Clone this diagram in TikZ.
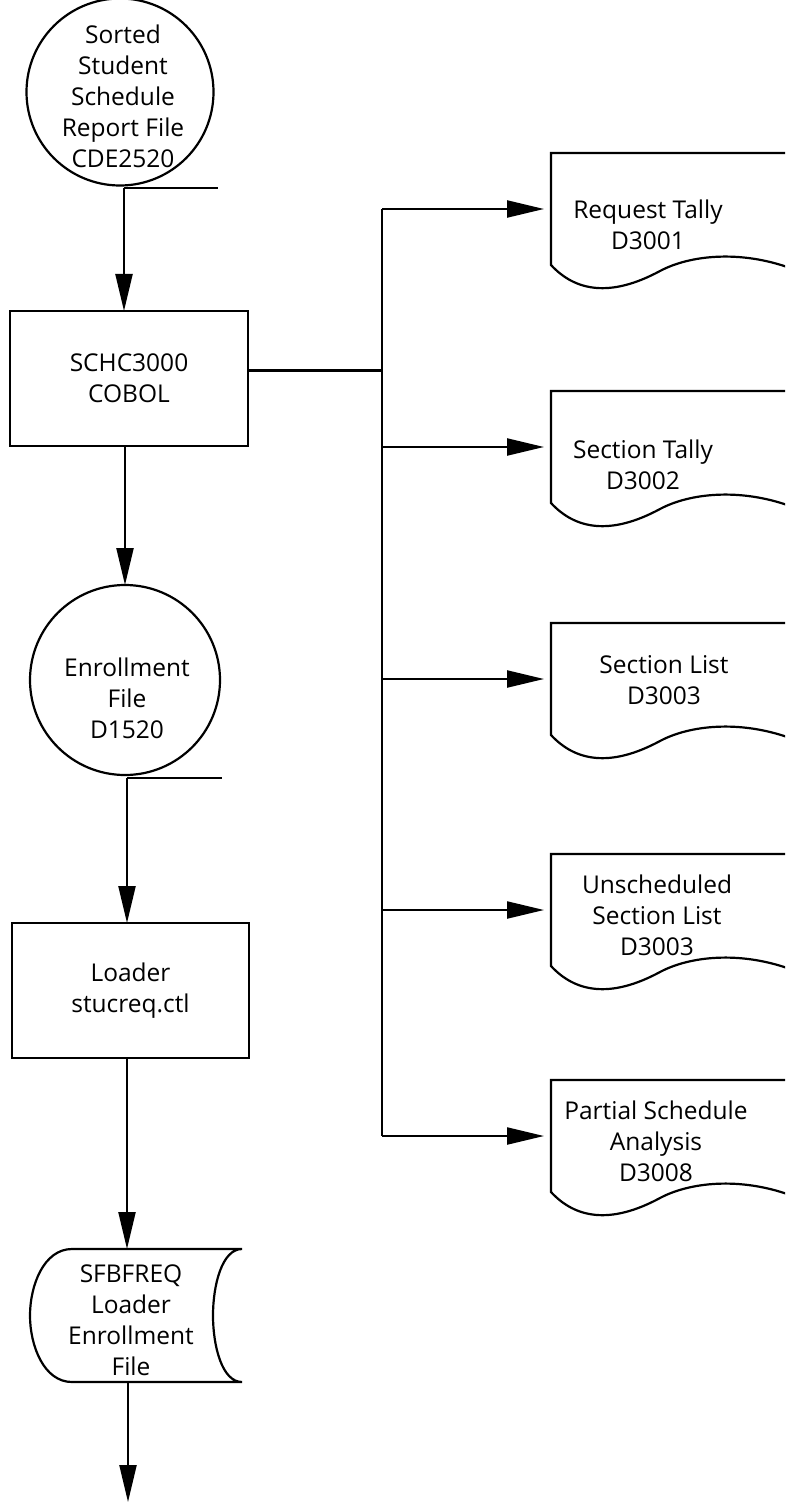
\documentclass[tikz,border=0pt]{standalone}
\usepackage{fontspec}
\setmainfont{Open Sans}
\usetikzlibrary{arrows.meta}
\begin{document}
\begin{tikzpicture}[x=1pt,y=-1pt,
  line width=2.2pt,
  every node/.style={font=\fontsize{24.5}{31}\selectfont, align=center, inner sep=0pt, outer sep=0pt},
  proc/.style={draw, rectangle, minimum width=238pt, minimum height=135pt},
  filecircle/.style={draw, circle},
  docbox/.style={rectangle, anchor=north west, minimum width=234pt, minimum height=112pt},
  flowarrow/.style={-{Triangle[length=37pt,width=17pt]}},
  docpage/.pic={
    \draw (250,0) -- (0,0) -- (0,112)
      .. controls (24,138) and (59,145) .. (109,118)
      .. controls (139,102) and (189,97) .. (239,115);
    \draw[line width=2.8pt] (92,0) -- (129,0);
  }
]
\useasboundingbox (0,0) rectangle (785,1503);
\clip (0,0) rectangle (785,1503);

% input file
\node[filecircle, minimum size=187pt] (src) at (120,92) {};
\node (srct) at (123,96.5) {Sorted\\Student\\Schedule\\Report File\\CDE2520};
\coordinate (srctab) at (124,188);
\coordinate (srctabend) at (218,188);
\draw (srctab) -- (srctabend);

% report program
\node[proc] (sch) at (129,378.5) {SCHC3000\\COBOL};
\draw[flowarrow] (srctab) -- (srctab |- sch.north);

% enrollment file
\node[filecircle, minimum size=190pt] (enr) at (125,680) {};
\node (enrt) at (127,698.5) {Enrollment\\File\\D1520};
\draw[flowarrow] (sch.south -| enr) -- (enr.north);
\coordinate (enrtab) at (127,778);
\coordinate (enrtabend) at (222,778);
\draw (enrtab) -- (enrtabend);

% loader step
\node[proc, minimum width=237pt] (ldr) at (130.5,990.5) {Loader\\stucreq.ctl};
\draw[flowarrow] (enrtab) -- (enrtab |- ldr.north);

% stored data
\node[rectangle, minimum width=212pt, minimum height=133pt] (sfb) at (136,1315.5) {};
\draw (242,1249) -- (72,1249)
  .. controls (44,1249) and (30,1285) .. (30,1315.5)
  .. controls (30,1346) and (44,1382) .. (72,1382) -- (242,1382)
  .. controls (222,1382) and (213,1346) .. (213,1315.5)
  .. controls (213,1285) and (222,1249) .. (242,1249);
\node (sfbt) at (131,1320) {SFBFREQ\\Loader\\Enrollment\\File};
\draw[flowarrow] (ldr.south -| enrtab) -- (enrtab |- sfb.north);
\coordinate (out) at (128,1502);
\draw[flowarrow] (sfb.south -| out) -- (out);

% report documents
\node[docbox] (d1) at (551,153) {};
\node[docbox] (d2) at (551,391) {};
\node[docbox] (d3) at (551,623) {};
\node[docbox] (d4) at (551,854) {};
\node[docbox] (d5) at (551,1080) {};
\foreach \d in {d1,d2,d3,d4,d5} \pic at (\d.north west) {docpage};
\node (d1t) at (648,225) {Request Tally\\D3001};
\node (d2t) at (643,465) {Section Tally\\D3002};
\node (d3t) at (664,680) {Section List\\D3003};
\node (d4t) at (657,915) {Unscheduled\\Section List\\D3003};
\node (d5t) at (656,1141) {Partial Schedule\\Analysis\\D3008};

% distribution bus
\coordinate (bus) at (382,0);
\coordinate (schout) at ([yshift=8pt]sch.east);
\draw (schout) -- (schout -| bus);
\draw (bus |- d1.west) -- (bus |- d5.west);
\foreach \d in {d1,d2,d3,d4,d5}
  \draw[flowarrow, shorten >=7pt] (bus |- \d.west) -- (\d.west);
\end{tikzpicture}
\end{document}
